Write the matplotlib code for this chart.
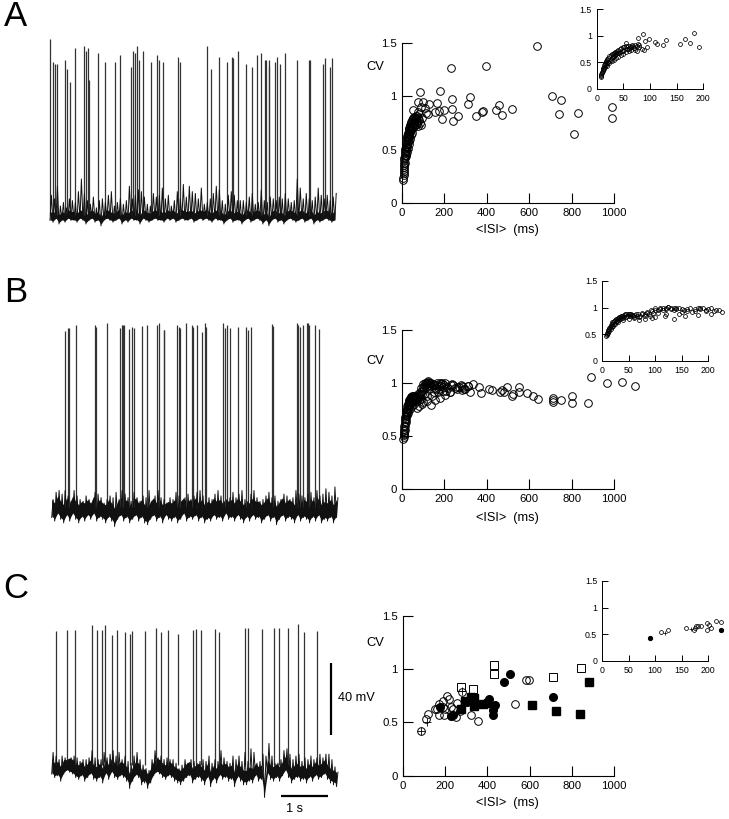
import matplotlib
matplotlib.use('Agg')
import matplotlib.pyplot as plt
import numpy as np

plt.rcParams['font.family'] = ['Liberation Sans', 'DejaVu Sans']

# spike times (s) and peak heights (mV above resting level)
spike_t_a = [0.00, .06, .11, .15, .31, .37, .42, .54, .73, .77, .80, .82, 1.02, 1.16, 1.38, 1.50, 1.73, 1.76,
             1.81, 1.86, 1.90, 1.97, 2.15, 2.28, 2.32, 2.41, 2.72, 2.77, 3.35, 3.43, 3.59, 3.76, 3.87, 3.89,
             4.01, 4.18, 4.30, 4.40, 4.50, 4.57, 4.59, 4.65, 4.66, 4.78, 4.83, 4.90, 5.01, 5.26, 5.52, 5.53,
             5.81, 5.86, 5.96, 5.99]
spike_v_a = [97.5, 85, 84, 84, 86, 81, 74, 93, 94, 91, 93, 75, 90, 85, 85, 89, 82, 91,
             90, 94, 86, 91, 85, 89, 86, 85, 88, 85, 94, 81, 88, 85, 88, 87,
             91, 84, 82, 89, 90, 86, 86, 86, 83, 85, 88, 84, 90, 86, 86, 86,
             84, 87, 82, 87]
spike_t_b = [.29, .34, .37, .52, .92, .95, 1.18, 1.46, 1.49, 1.51, 1.54, 1.65, 1.70, 1.76, 1.93, 2.03, 2.25,
             2.28, 2.38, 2.39, 2.67, 2.70, 2.73, 2.86, 2.98, 3.01, 3.09, 3.19, 3.26, 3.28, 3.64, 3.68, 3.74,
             3.79, 3.96, 4.13, 4.18, 4.24, 4.69, 4.71, 5.21, 5.23, 5.28, 5.34, 5.43, 5.45, 5.48, 5.60, 5.69]
spike_v_b = [97.5, 99.5, 99.5, 101, 101, 100, 102, 99.5, 101, 101, 101, 99, 100, 99.5, 100.6, 101, 101,
             102, 98, 98, 101, 100, 99.5, 102, 101, 100, 101, 97, 102, 100, 102, 99.5, 101,
             99.5, 100, 100, 98, 100, 101.5, 100.6, 102, 101, 100, 101, 102, 102, 101, 101, 99]
spike_t_c = [.10, .33, .50, .85, .96, 1.06, 1.14, 1.28, 1.39, 1.56, 1.67, 1.71, 1.99, 2.21, 2.33, 2.47, 2.69,
             3.00, 3.06, 3.17, 3.48, 3.57, 4.11, 4.18, 4.47, 4.74, 4.83, 5.02, 5.23, 5.37, 5.64]
spike_v_c = [74.5, 75, 75, 78, 75, 75, 78, 72.5, 75, 74, 73, 74.5, 74.5, 76, 74, 75, 73,
             75, 75.5, 75, 75.5, 74, 76, 76, 75.5, 76, 76, 76, 78.6, 74, 74.5]

# top and bottom of the noise band along each trace (mV)
noise_hi_a = [11, 9, 16, 5, 7, 4, 9, 8, 7, 13, 20, 12, 8, 6, 10, 4, 8, 9, 7, 11,
              13, 5, 7, 9, 6, 8, 16, 9, 11, 14, 13, 10, 6, 5, 12, 10, 11, 15, 9, 11,
              5, 8, 13, 9, 17, 10, 16, 13, 12, 9, 15, 6, 7, 9, 12, 16, 14, 8, 6, 11,
              13, 11, 8, 8, 8, 7, 10, 12, 6, 7, 14, 8, 7, 10, 9, 8, 10, 9, 12, 9,
              7, 8, 20, 15, 9, 12, 9, 8, 10, 15, 11, 9, 11, 8, 10, 12]
noise_lo_a = [-3, -4, -2, -5, -3, -4, -2, -3, -3, -4, -2, -3, -5, -3, -2, -4, -3, -6, -3, -2,
              -3, -4, -3, -2, -5, -3, -4, -2, -3, -3, -5, -2, -3, -4, -3, -2, -3, -3, -4, -2,
              -3, -2, -4, -3, -2, -3, -3, -2, -4, -3, -2, -3, -2, -3, -4, -2, -3, -3, -5, -3,
              -2, -4, -3, -3, -5, -3, -2, -4, -3, -2, -3, -5, -3, -6, -3, -2, -4, -3, -5, -3,
              -2, -3, -4, -3, -2, -4, -3, -2, -5, -3, -4, -3, -2, -3, -4, -3]
noise_hi_b = [4, 8, 9, 7, 9, 6, 3, 9, 6, 4, 3, 6, 4, 2, 8, 7, 5, 2, 4, 6,
              5, 8, 4, 9, 7, 5, 3, 8, 5, 3, 6, 5, 9, 3, 6, 9, 5, 4, 2, 5,
              4, 8, 6, 3, 5, 7, 4, 6, 8, 9, 6, 3, 5, 4, 7, 9, 6, 3, 4, 5,
              8, 5, 7, 9, 4, 3, 7, 9, 5, 3, 4, 6, 8, 5, 6, 3, 4, 7, 6, 4,
              5, 9, 7, 6, 5, 7, 8, 5, 9, 6, 7, 10, 8, 6, 11, 5]
noise_lo_b = [-6, -8, -4, -7, -9, -5, -8, -4, -7, -9, -6, -8, -5, -7, -4, -8, -6, -7, -9, -6,
              -8, -11, -7, -5, -8, -6, -9, -7, -5, -8, -6, -9, -10, -7, -5, -8, -6, -9, -5, -7,
              -8, -6, -9, -7, -4, -8, -6, -7, -5, -8, -6, -9, -7, -8, -5, -7, -6, -8, -4, -7,
              -6, -8, -5, -7, -9, -6, -8, -5, -7, -6, -9, -7, -5, -8, -6, -10, -7, -5, -8, -6,
              -7, -9, -5, -8, -6, -7, -9, -6, -8, -5, -9, -7, -8, -6, -9, -6]
noise_hi_c = [7, 5, 3, 5, 4, 3, 4, 5, 4, 2, 3, 3, 4, 8, 4, 3, 3, 7, 4, 6,
              8, 5, 7, 3, 5, 2, 1, 5, 7, 3, 0, -2, -3, 3, 8, 4, 5, 3, 4, 3,
              3, 1, -2, 0, 3, 1, 3, 2, 1, 2, 3, 2, 5, 1, 3, 2, 8, 4, 2, 1,
              5, 3, 5, 2, 7, 2, 9, 7, 1, 2, 6, 5, 12, 5, 1, 1, 3, 8, 9, 6,
              3, 5, 6, 2, 4, 3, 5, 3, 4, 6, 4, 6, 6, 3, -1, -4]
noise_lo_c = [-5, -7, -6, -9, -5, -3, -4, -5, -7, -8, -6, -9, -7, -5, -8, -9, -7, -10, -5, -8,
              -4, -7, -8, -6, -7, -9, -13, -9, -6, -7, -11, -10, -13, -10, -6, -4, -5, -7, -8, -6,
              -7, -9, -10, -11, -9, -7, -6, -10, -8, -7, -9, -11, -7, -12, -8, -10, -6, -8, -7, -9,
              -8, -12, -7, -9, -11, -11, -9, -10, -6, -9, -8, -18, -5, -8, -9, -7, -9, -6, -3, -7,
              -10, -8, -7, -9, -8, -10, -7, -9, -6, -8, -7, -5, -8, -10, -11, -12]

# panel A, CV against mean ISI
isi_a = [8, 8, 9, 9, 10, 10, 11, 11, 12, 12, 13, 14, 15, 16, 17, 18, 19, 20, 22, 24, 26, 28, 30, 32, 34, 36,
         38, 40, 43, 46, 49, 52, 55, 58, 62, 66, 70, 30, 35, 42, 50, 60, 72,
         14, 16, 18, 20, 22, 24, 26, 28, 30, 32, 34, 36, 38, 40, 44, 48, 52, 56, 60, 64, 68, 72, 76, 80,
         20, 24, 28, 32, 36, 40, 45, 50, 55, 60, 65, 70, 75, 80, 85,
         638, 230, 397, 705, 751, 235, 321, 182, 86, 990, 989, 831, 741, 812, 517, 459, 442, 472, 384, 376,
         351, 310, 263, 243, 237, 201, 191, 175, 165, 157, 130, 125, 78, 99, 110, 91, 114, 94, 89, 78, 55]
cv_a = [.22, .24, .26, .28, .30, .32, .34, .36, .38, .40, .42, .45, .47, .49, .51, .53, .55, .57, .59, .61,
        .63, .65, .66, .68, .69, .70, .72, .73, .75, .76, .78, .79, .80, .81, .80, .82, .77, .62, .64, .68,
        .72, .75, .74,
        .38, .42, .45, .48, .50, .53, .55, .58, .60, .62, .64, .65, .67, .68, .70, .72, .74, .75, .77, .78,
        .80, .82, .80, .83,
        .44, .48, .52, .55, .58, .60, .64, .66, .70, .72, .74, .76, .72, .78, .75,
        1.47, 1.26, 1.285, 1.0, .965, .977, .993, 1.05, 1.04, .896, .794, .843, .83, .644, .88, .918, .871,
        .828, .859, .853, .815, .93, .82, .769, .88, .868, .79, .862, .934, .85, .927, .83, .949, .943, .887,
        .896, .84, .794, .73, .853, .87]

# panel B
isi_b = [8, 9, 10, 10, 11, 12, 13, 14, 15, 16, 17, 18, 19, 20, 22, 24, 26, 28, 30, 32, 34, 36, 38, 40, 42, 44,
         46, 48, 50, 52, 55, 58, 60, 65, 70, 75, 80, 85, 90, 95, 100, 105, 110, 115, 120, 125, 130, 135, 140,
         145, 150, 155, 160, 170, 175, 180, 185, 190, 195, 200, 210, 220, 235, 250, 270, 285, 300,
         30, 40, 50, 60, 80, 100, 120,
         12, 14, 16, 18, 20, 22, 24, 26, 28, 30, 33, 36, 39, 42, 45, 48, 52, 56, 60, 64, 68, 72, 76, 80, 84, 88,
         92, 96, 100, 105, 110, 115, 120, 125, 130, 135, 140, 150, 160, 165, 175, 185, 195, 205, 215, 225, 240,
         260, 280, 295, 310,
         889, 964, 1034, 1096, 876, 801, 801, 748, 710, 713, 710, 640, 619, 588, 553, 550, 517, 525, 494, 481,
         470, 462, 423, 411, 371, 365, 337, 321, 313, 290, 282, 259, 230, 227, 205, 180, 157, 136, 144, 118,
         94, 70]
cv_b = [.47, .49, .51, .53, .55, .57, .60, .62, .64, .66, .68, .70, .72, .73, .74, .76, .78, .79, .80, .82, .83,
        .84, .85, .85, .86, .87, .87, .87, .88, .87, .88, .84, .83, .85, .83, .87, .88, .90, .85, .93, .96,
        .90, .98, 1.0, 1.0, 1.01, .98, 1.0, .97, .99, .92, .95, .98, .92, .97, 1.0, .97, 1.0, .96, .98, .93,
        .95, .99, .95, .96, .97, .94,
        .72, .76, .78, .80, .78, .82, .88,
        .52, .56, .60, .63, .66, .69, .70, .73, .75, .76, .78, .80, .80, .82, .82, .84, .85, .86, .86, .88, .87,
        .85, .90, .84, .92, .88, .95, .90, .99, .95, 1.0, .96, .97, 1.02, 1.0, .95, 1.0, .98, .94, 1.0, .94,
        .99, .93, 1.0, .96, .92, .98, .94, .98, .94, .97,
        1.06, 1.004, 1.01, .973, .816, .816, .882, .841, .84, .825, .857, .847, .882, .91, .96, .92, .88, .897,
        .96, .92, .935, .92, .935, .948, .904, .96, .988, .913, .973, .96, .935, .967, .982, .92, .888, .857,
        .841, .794, .879, .832, .80, .763]

# panel C, four cell groups
open_circle_isi = [87, 109, 121, 153, 170, 170, 192, 194, 164, 202, 211, 220, 228, 252, 255, 271, 323, 354, 532,
                   583, 598, 279, 192, 239]
open_circle_cv = [.42, .53, .576, .623, .67, .57, .705, .57, .63, .63, .748, .723, .642, .554, .68, .61, .57, .517,
                  .67, .895, .895, .79, .648, .63]
open_square_isi = [430, 430, 844, 709, 332, 274]
open_square_cv = [1.04, .952, 1.014, .927, .814, .833]
filled_circle_isi = [505, 477, 709, 227, 176, 425, 436, 428, 406, 302, 239]
filled_circle_cv = [.955, .883, .739, .56, .648, .567, .664, .617, .717, .695, .57]
filled_square_isi = [882, 611, 726, 839, 378, 337, 337, 323, 294, 276, 405]
filled_square_cv = [.877, .667, .604, .579, .676, .654, .726, .742, .705, .626, .686]
cross_isi = [87, 113, 280]
cross_cv = [.42, .50, .80]

# inset of panel C
inset_open_isi = [111, 125, 158, 173, 175, 177, 181, 186, 197, 198, 202, 206, 214, 223]
inset_open_cv = [.54, .57, .62, .58, .62, .66, .65, .65, .71, .58, .67, .62, .75, .73]
inset_filled_isi = [91, 224]
inset_filled_cv = [.42, .58]
inset_cross_isi = [118, 167]
inset_cross_cv = [.52, .60]

W, H = 729, 819
main_ticks_x = [0, 200, 400, 600, 800, 1000]
inset_ticks_x = [0, 50, 100, 150, 200]
ticks_cv = [0, 0.5, 1, 1.5]
cv_labels = ['0', '0.5', '1', '1.5']


def box_axes(fig, x0, x1, y0, y1):
    """axes from pixel box, y0 is the lower edge in picture pixels"""
    return fig.add_axes([x0 / W, 1 - y0 / H, (x1 - x0) / W, (y0 - y1) / H])


def label(fig, x, y, s, size, **kw):
    fig.text(x / W, 1 - y / H, s, fontsize=size, ha=kw.pop('ha', 'center'), va='center', **kw)


def draw_trace(fig, x0, base, times, peaks, hi, lo, band):
    ax = box_axes(fig, x0 - 0.1 * 47, x0 + 6.3 * 47, base + 25 * 1.8, base - 110 * 1.8)
    ax.set_xlim(-0.1, 6.3)
    ax.set_ylim(-25, 110)
    ax.axis('off')
    ax.vlines(times, 0, peaks, color='#333333', lw=0.9)
    t = np.linspace(0, 6.06, len(hi))
    lo = np.array(lo, dtype=float)
    hi = np.array(hi, dtype=float)
    tt = np.ravel(np.column_stack([t, t + 0.03]))
    vv = np.ravel(np.column_stack([lo, hi]))
    ax.plot(tt, vv, color='#111111', lw=0.7)
    ax.fill_between(t, lo * 0.85, np.minimum(lo + band, hi), color='#111111', lw=0)
    return ax


def cv_axes(ax, xmax, xticks, size, tick_len, lw=0.8):
    ax.set_xlim(0, xmax)
    ax.set_ylim(0, 1.5)
    ax.patch.set_alpha(0)
    ax.spines['top'].set_visible(False)
    ax.spines['right'].set_visible(False)
    ax.spines['left'].set_linewidth(lw)
    ax.spines['bottom'].set_linewidth(lw)
    ax.set_xticks(xticks)
    ax.set_yticks(ticks_cv)
    ax.set_yticklabels(cv_labels)
    ax.tick_params(direction='in', length=tick_len, width=lw, labelsize=size, pad=3.5)


fig = plt.figure(figsize=(W / 100, H / 100), dpi=100)

draw_trace(fig, 50, 215, spike_t_a, spike_v_a, noise_hi_a, noise_lo_a, 5)
draw_trace(fig, 51.7, 506.7, spike_t_b, spike_v_b, noise_hi_b, noise_lo_b, 10)
ax_c = draw_trace(fig, 51.7, 765, spike_t_c, spike_v_c, noise_hi_c, noise_lo_c, 8)

# scale bars
ax_c.plot([5.94, 5.94], [16.7, 56.7], color='black', lw=1.6, clip_on=False, solid_capstyle='butt')
ax_c.plot([4.88, 5.88], [-17.2, -17.2], color='black', lw=1.6, clip_on=False, solid_capstyle='butt')
label(fig, 356, 698, '40 mV', 9.2)
label(fig, 295, 809, '1 s', 9.2)

for s, y in zip('ABC', [17, 292, 589]):
    label(fig, 16, y, s, 25)

main_size = 8.2
inset_size = 6.3
ms_main = 5.5
ms_inset = 2.8
circle = dict(ls='none', marker='o', mfc='none', mec='black', clip_on=False)

# main scatter panels
ax1 = box_axes(fig, 401.7, 614.3, 203.3, 42.7)
cv_axes(ax1, 1000, main_ticks_x, main_size, 7)
ax1.plot(isi_a, cv_a, ms=ms_main, mew=0.7, **circle)

ax2 = box_axes(fig, 401.7, 614.3, 489.3, 330)
cv_axes(ax2, 1000, main_ticks_x, main_size, 7)
ax2.plot(isi_b, cv_b, ms=ms_main, mew=0.7, **circle)

ax3 = box_axes(fig, 402.7, 614.3, 775.7, 616)
cv_axes(ax3, 1000, main_ticks_x, main_size, 7)
ax3.plot(open_circle_isi, open_circle_cv, ms=ms_main, mew=0.7, **circle)
ax3.plot(open_square_isi, open_square_cv, ls='none', marker='s', ms=ms_main, mfc='none', mec='black', mew=0.7)
ax3.plot(filled_circle_isi, filled_circle_cv, ls='none', marker='o', ms=ms_main, color='black')
ax3.plot(filled_square_isi, filled_square_cv, ls='none', marker='s', ms=ms_main, color='black')
ax3.plot(cross_isi, cross_cv, ls='none', marker='+', ms=ms_main, color='black', mew=0.6)

for y_cv, y_x in zip([67, 361, 643], [230, 518, 803]):
    label(fig, 375, y_cv, 'CV', 9.3)
    label(fig, 507, y_x, '<ISI>  (ms)', 9.2)

# insets
in1 = box_axes(fig, 596.7, 703.3, 89, 9)
cv_axes(in1, 200, inset_ticks_x, inset_size, 4, lw=0.7)
in1.plot([x for x in isi_a if x <= 200], [c for x, c in zip(isi_a, cv_a) if x <= 200],
         ms=ms_inset, mew=0.55, **circle)

in2 = box_axes(fig, 602, 708.3, 360.7, 281)
cv_axes(in2, 200, inset_ticks_x, inset_size, 4, lw=0.7)
in2.plot([x for x in isi_b if x <= 225], [c for x, c in zip(isi_b, cv_b) if x <= 225],
         ms=ms_inset, mew=0.55, **circle)

in3 = box_axes(fig, 602, 708.3, 660.7, 581)
cv_axes(in3, 200, inset_ticks_x, inset_size, 4, lw=0.7)
in3.plot(inset_open_isi, inset_open_cv, ms=ms_inset, mew=0.55, **circle)
in3.plot(inset_filled_isi, inset_filled_cv, ls='none', marker='o', ms=ms_inset, color='black', clip_on=False)
in3.plot(inset_cross_isi, inset_cross_cv, ls='none', marker='+', ms=ms_inset, color='black', mew=0.5)

fig.savefig('out.png', dpi=100)
